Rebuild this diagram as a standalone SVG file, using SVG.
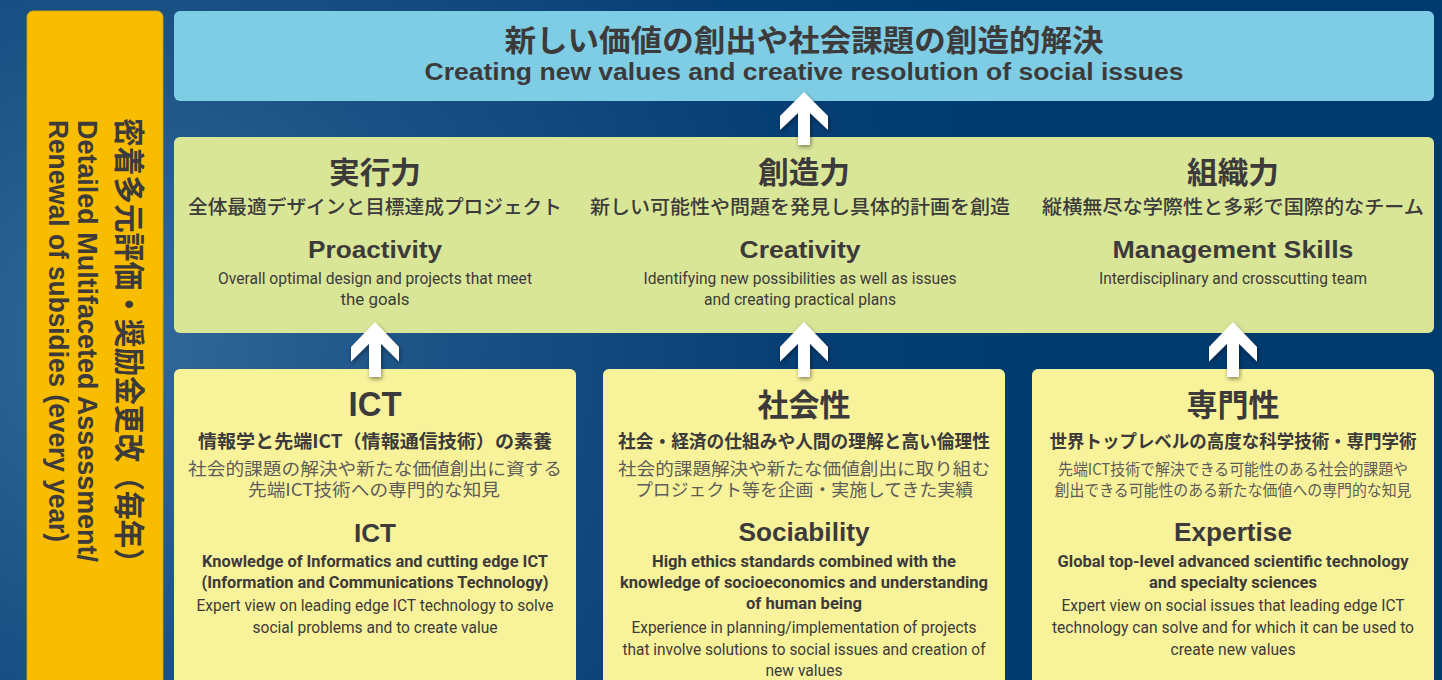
<svg xmlns="http://www.w3.org/2000/svg" width="1442" height="680" viewBox="0 0 1442 680">
  <defs>
    <radialGradient id="bg" cx="130" cy="340" r="900" gradientUnits="userSpaceOnUse">
      <stop offset="0" stop-color="#33689A"/>
      <stop offset="0.35" stop-color="#1B5285"/>
      <stop offset="0.75" stop-color="#063F75"/>
      <stop offset="1" stop-color="#003B70"/>
    </radialGradient>
    <filter id="shadow" x="-50%" y="-50%" width="200%" height="200%">
      <feDropShadow dx="1" dy="2" stdDeviation="2" flood-color="#000" flood-opacity="0.45"/>
    </filter>
    <path id="arrowShape" d="M0,0 L24,24 L24,38 L6,21 L6,53 L-6,53 L-6,21 L-24,38 L-24,24 Z"/>
  </defs>
  <style>
    .jp { font-family: "Noto Sans CJK JP", "Noto Sans", sans-serif; }
    .en { font-family: "Liberation Sans", Arial, sans-serif; }
    .enc { font-family: "Liberation Sans Narrow", "Roboto", "Liberation Sans", sans-serif; }
    .b { font-weight: 700; }
    .m { font-weight: 500; }
    .dark { fill: #3C3A3A; }
    .gray { fill: #5E5C5A; }
    .c { text-anchor: middle; }
    .arrow { fill: #FFFFFF; filter: url(#shadow); }
  </style>

  <rect x="0" y="0" width="1442" height="680" fill="url(#bg)"/>

  <!-- Left bar -->
  <g id="side-bar">
    <rect x="27" y="11" width="136" height="700" rx="6" fill="#F8BC00" stroke="#D9A200" stroke-width="0.8"/>
    <text class="jp b dark" font-size="31" transform="translate(118,118) rotate(90)" textLength="459" lengthAdjust="spacingAndGlyphs">密着多元評価・奨励金更改（毎年）</text>
    <text class="en b dark" font-size="27" transform="translate(78,120) rotate(90)" textLength="442" lengthAdjust="spacingAndGlyphs">Detailed Multifaceted Assessment/</text>
    <text class="en b dark" font-size="27" transform="translate(49,120) rotate(90)" textLength="422" lengthAdjust="spacingAndGlyphs">Renewal of subsidies (every year)</text>
  </g>

  <!-- Top goal box -->
  <g id="goal">
    <rect x="174" y="11" width="1260" height="90" rx="6" fill="#7FCDE4"/>
    <text class="jp b dark c" x="804" y="51" font-size="30" textLength="599" lengthAdjust="spacingAndGlyphs">新しい価値の創出や社会課題の創造的解決</text>
    <text class="en b dark c" x="804" y="80" font-size="24" textLength="759" lengthAdjust="spacingAndGlyphs">Creating new values and creative resolution of social issues</text>
  </g>

  <!-- Middle competencies box -->
  <g id="competencies">
    <rect x="174" y="137" width="1260" height="196" rx="6" fill="#D9E698"/>
  </g>
  <g id="proactivity">
    <text class="jp b dark c" x="375" y="183" font-size="30" textLength="92" lengthAdjust="spacingAndGlyphs">実行力</text>
    <text class="jp m dark c" x="375" y="214" font-size="19.5" textLength="374" lengthAdjust="spacingAndGlyphs">全体最適デザインと目標達成プロジェクト</text>
    <text class="en b dark c" x="375" y="258" font-size="24" textLength="134" lengthAdjust="spacingAndGlyphs">Proactivity</text>
    <text class="enc dark c" x="375" y="284" font-size="16.5" textLength="314" lengthAdjust="spacingAndGlyphs">Overall optimal design and projects that meet</text>
    <text class="enc dark c" x="375" y="305" font-size="16.5" textLength="69" lengthAdjust="spacingAndGlyphs">the goals</text>
  </g>
  <g id="creativity">
    <text class="jp b dark c" x="804" y="183" font-size="30" textLength="92" lengthAdjust="spacingAndGlyphs">創造力</text>
    <text class="jp m dark c" x="800" y="214" font-size="19.5" textLength="420" lengthAdjust="spacingAndGlyphs">新しい可能性や問題を発見し具体的計画を創造</text>
    <text class="en b dark c" x="800" y="258" font-size="24" textLength="121" lengthAdjust="spacingAndGlyphs">Creativity</text>
    <text class="enc dark c" x="800" y="284" font-size="16.5" textLength="313" lengthAdjust="spacingAndGlyphs">Identifying new possibilities as well as issues</text>
    <text class="enc dark c" x="800" y="305" font-size="16.5" textLength="192" lengthAdjust="spacingAndGlyphs">and creating practical plans</text>
  </g>
  <g id="management">
    <text class="jp b dark c" x="1233" y="183" font-size="30" textLength="92" lengthAdjust="spacingAndGlyphs">組織力</text>
    <text class="jp m dark c" x="1233" y="214" font-size="19.5" textLength="382" lengthAdjust="spacingAndGlyphs">縦横無尽な学際性と多彩で国際的なチーム</text>
    <text class="en b dark c" x="1233" y="258" font-size="24" textLength="241" lengthAdjust="spacingAndGlyphs">Management Skills</text>
    <text class="enc dark c" x="1233" y="284" font-size="16.5" textLength="268" lengthAdjust="spacingAndGlyphs">Interdisciplinary and crosscutting team</text>
  </g>

  <!-- Bottom foundation boxes -->
  <g id="ict">
    <rect x="174" y="369" width="402" height="340" rx="6" fill="#F8F39A"/>
    <text class="en b dark c" x="375" y="416" font-size="35" textLength="53" lengthAdjust="spacingAndGlyphs">ICT</text>
    <text class="jp b dark c" x="375" y="448" font-size="18.5" textLength="354" lengthAdjust="spacingAndGlyphs">情報学と先端ICT（情報通信技術）の素養</text>
    <text class="jp gray c" x="375" y="475" font-size="17.5" textLength="374" lengthAdjust="spacingAndGlyphs">社会的課題の解決や新たな価値創出に資する</text>
    <text class="jp gray c" x="374" y="496" font-size="17.5" textLength="252" lengthAdjust="spacingAndGlyphs">先端ICT技術への専門的な知見</text>
    <text class="en b dark c" x="375" y="542" font-size="25" textLength="42" lengthAdjust="spacingAndGlyphs">ICT</text>
    <text class="enc b dark c" x="375" y="567" font-size="16.5" textLength="346" lengthAdjust="spacingAndGlyphs">Knowledge of Informatics and cutting edge ICT</text>
    <text class="enc b dark c" x="375" y="588" font-size="16.5" textLength="347" lengthAdjust="spacingAndGlyphs">(Information and Communications Technology)</text>
    <text class="enc dark c" x="375" y="611" font-size="16.5" textLength="357" lengthAdjust="spacingAndGlyphs">Expert view on leading edge ICT technology to solve</text>
    <text class="enc dark c" x="375" y="633" font-size="16.5" textLength="245" lengthAdjust="spacingAndGlyphs">social problems and to create value</text>
  </g>
  <g id="sociability">
    <rect x="603" y="369" width="402" height="340" rx="6" fill="#F8F39A"/>
    <text class="jp b dark c" x="804" y="416" font-size="31" textLength="93" lengthAdjust="spacingAndGlyphs">社会性</text>
    <text class="jp b dark c" x="804" y="448" font-size="18.5" textLength="372" lengthAdjust="spacingAndGlyphs">社会・経済の仕組みや人間の理解と高い倫理性</text>
    <text class="jp gray c" x="804" y="475" font-size="17.5" textLength="372" lengthAdjust="spacingAndGlyphs">社会的課題解決や新たな価値創出に取り組む</text>
    <text class="jp gray c" x="804" y="496" font-size="17.5" textLength="338" lengthAdjust="spacingAndGlyphs">プロジェクト等を企画・実施してきた実績</text>
    <text class="en b dark c" x="804" y="541" font-size="25" textLength="131" lengthAdjust="spacingAndGlyphs">Sociability</text>
    <text class="enc b dark c" x="804" y="567" font-size="16.5" textLength="304" lengthAdjust="spacingAndGlyphs">High ethics standards combined with the</text>
    <text class="enc b dark c" x="804" y="588" font-size="16.5" textLength="368" lengthAdjust="spacingAndGlyphs">knowledge of socioeconomics and understanding</text>
    <text class="enc b dark c" x="804" y="609" font-size="16.5" textLength="116" lengthAdjust="spacingAndGlyphs">of human being</text>
    <text class="enc dark c" x="804" y="633" font-size="16.5" textLength="345" lengthAdjust="spacingAndGlyphs">Experience in planning/implementation of projects</text>
    <text class="enc dark c" x="804" y="655" font-size="16.5" textLength="363" lengthAdjust="spacingAndGlyphs">that involve solutions to social issues and creation of</text>
    <text class="enc dark c" x="804" y="676" font-size="16.5" textLength="77" lengthAdjust="spacingAndGlyphs">new values</text>
  </g>
  <g id="expertise">
    <rect x="1032" y="369" width="402" height="340" rx="6" fill="#F8F39A"/>
    <text class="jp b dark c" x="1233" y="416" font-size="31" textLength="93" lengthAdjust="spacingAndGlyphs">専門性</text>
    <text class="jp b dark c" x="1233" y="448" font-size="18" textLength="367" lengthAdjust="spacingAndGlyphs">世界トップレベルの高度な科学技術・専門学術</text>
    <text class="jp gray c" x="1233" y="475" font-size="16" textLength="350" lengthAdjust="spacingAndGlyphs">先端ICT技術で解決できる可能性のある社会的課題や</text>
    <text class="jp gray c" x="1233" y="496" font-size="16" textLength="357" lengthAdjust="spacingAndGlyphs">創出できる可能性のある新たな価値への専門的な知見</text>
    <text class="en b dark c" x="1233" y="541" font-size="25" textLength="118" lengthAdjust="spacingAndGlyphs">Expertise</text>
    <text class="enc b dark c" x="1233" y="567" font-size="16.5" textLength="351" lengthAdjust="spacingAndGlyphs">Global top-level advanced scientific technology</text>
    <text class="enc b dark c" x="1233" y="588" font-size="16.5" textLength="168" lengthAdjust="spacingAndGlyphs">and specialty sciences</text>
    <text class="enc dark c" x="1233" y="611" font-size="16.5" textLength="343" lengthAdjust="spacingAndGlyphs">Expert view on social issues that leading edge ICT</text>
    <text class="enc dark c" x="1233" y="633" font-size="16.5" textLength="362" lengthAdjust="spacingAndGlyphs">technology can solve and for which it can be used to</text>
    <text class="enc dark c" x="1233" y="655" font-size="16.5" textLength="125" lengthAdjust="spacingAndGlyphs">create new values</text>
  </g>

  <!-- Connectors -->
  <g id="connectors">
    <use href="#arrowShape" class="arrow" transform="translate(804,92)"/>
    <use href="#arrowShape" class="arrow" transform="translate(375,322) scale(1,1.04)"/>
    <use href="#arrowShape" class="arrow" transform="translate(804,322) scale(1,1.04)"/>
    <use href="#arrowShape" class="arrow" transform="translate(1233,322) scale(1,1.04)"/>
  </g>
</svg>
